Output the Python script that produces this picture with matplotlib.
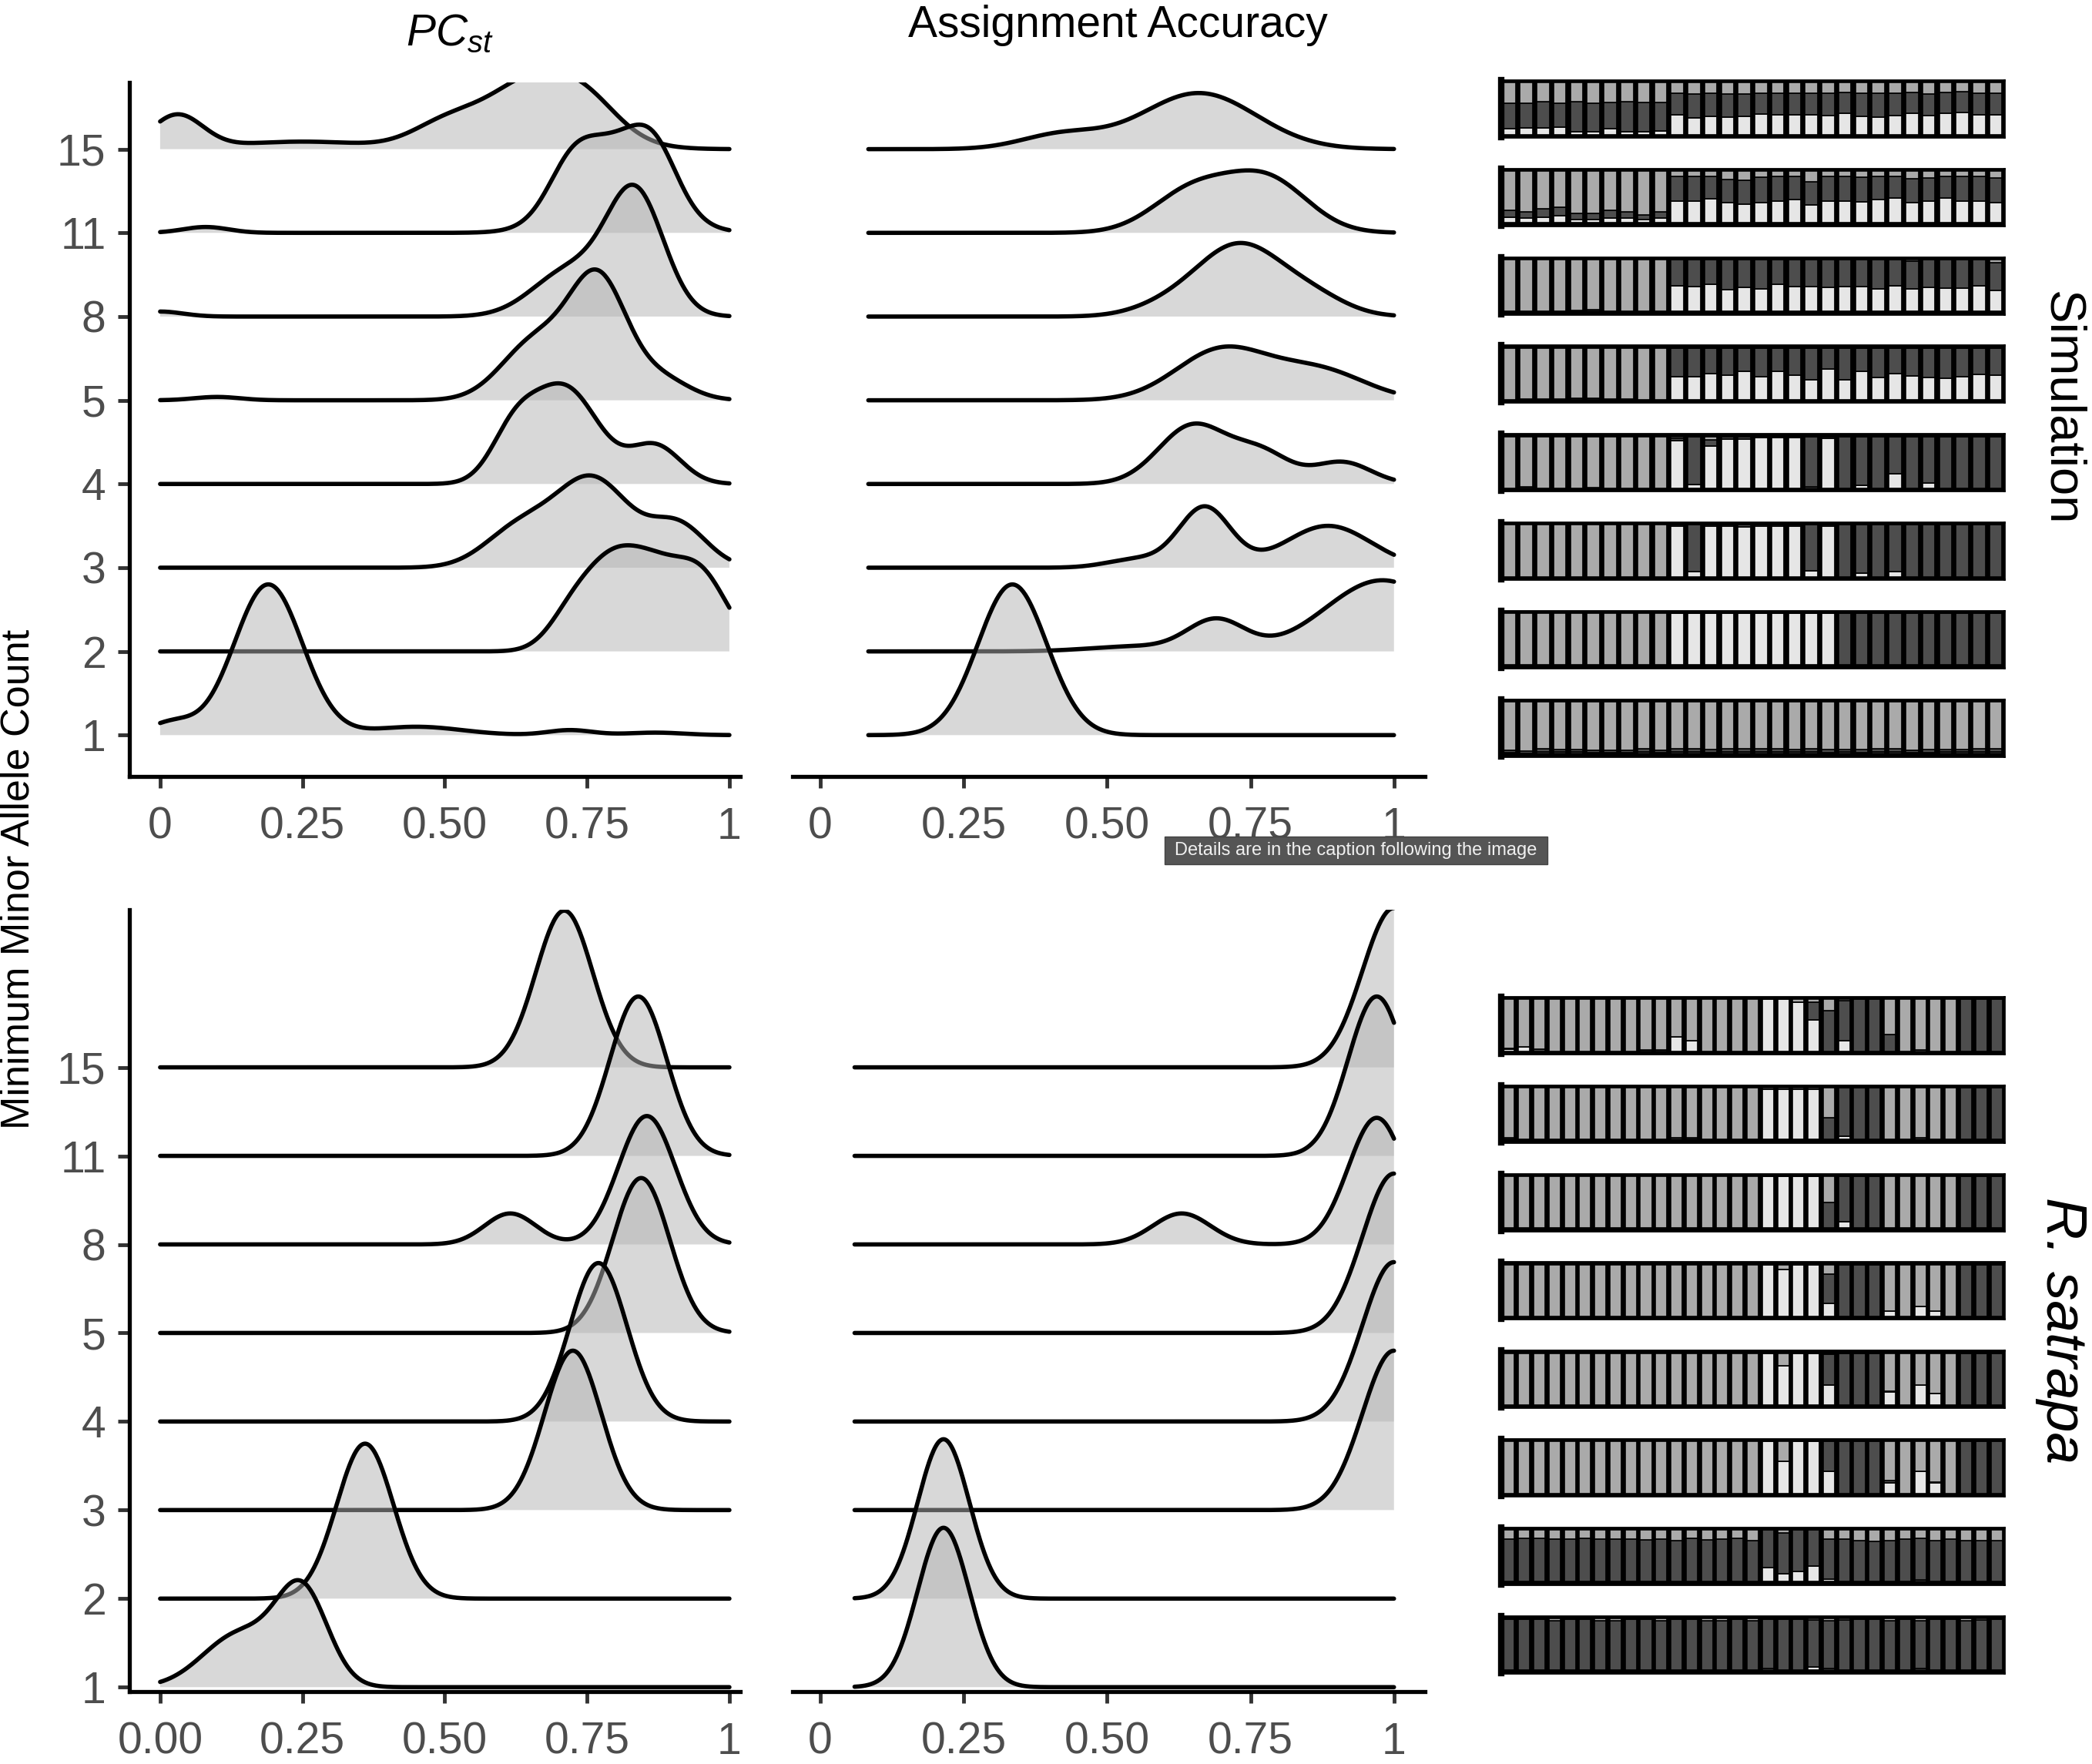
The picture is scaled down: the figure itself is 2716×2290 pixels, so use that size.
import numpy as np
import matplotlib
matplotlib.use("Agg")
import matplotlib.pyplot as plt
from matplotlib.patches import Rectangle

plt.rcParams['font.family'] = ['Liberation Sans', 'DejaVu Sans']
plt.rcParams['mathtext.fontset'] = 'custom'
plt.rcParams['mathtext.it'] = 'Liberation Sans:italic'
plt.rcParams['mathtext.rm'] = 'Liberation Sans'

W, H = 2716, 2290

mac_labels = ["1", "2", "3", "4", "5", "8", "11", "15"]

# ridge shapes: (centre, spread, height in row units)
# one entry per MAC, order 1, 2, 3, 4, 5, 8, 11, 15
sim_pcst = [
    [(0.02, 0.04, 0.15), (0.19, 0.06, 1.8), (0.45, 0.08, 0.1), (0.72, 0.04, 0.06), (0.87, 0.05, 0.03)],
    [(0.72, 0.04, 0.3), (0.8, 0.055, 1.1), (0.87, 0.04, 0.4), (0.945, 0.05, 0.95)],
    [(0.63, 0.06, 0.45), (0.76, 0.065, 1.05), (0.91, 0.05, 0.5)],
    [(0.62, 0.04, 0.5), (0.71, 0.06, 1.15), (0.87, 0.045, 0.45)],
    [(0.1, 0.04, 0.04), (0.66, 0.06, 0.7), (0.77, 0.05, 1.4), (0.88, 0.05, 0.25)],
    [(0.0, 0.04, 0.06), (0.72, 0.065, 0.55), (0.835, 0.05, 1.45)],
    [(0.08, 0.04, 0.07), (0.72, 0.04, 0.4), (0.8, 0.075, 1.05), (0.87, 0.04, 0.5)],
    [(0.03, 0.045, 0.4), (0.25, 0.12, 0.09), (0.5, 0.06, 0.25), (0.67, 0.09, 0.9), (0.76, 0.05, 0.15)],
]
sim_acc = [
    [(0.335, 0.06, 1.8)],
    [(0.55, 0.08, 0.06), (0.69, 0.05, 0.37), (0.98, 0.1, 0.85)],
    [(0.55, 0.05, 0.1), (0.67, 0.045, 0.72), (0.885, 0.075, 0.5)],
    [(0.65, 0.06, 0.7), (0.77, 0.05, 0.35), (0.91, 0.05, 0.26)],
    [(0.7, 0.08, 0.6), (0.87, 0.08, 0.35)],
    [(0.6, 0.06, 0.1), (0.73, 0.075, 0.85), (0.86, 0.06, 0.2)],
    [(0.65, 0.07, 0.5), (0.78, 0.07, 0.62)],
    [(0.42, 0.07, 0.17), (0.66, 0.1, 0.67)],
]
sat_pcst = [
    [(0.14, 0.065, 0.6), (0.25, 0.045, 1.05)],
    [(0.36, 0.05, 1.75)],
    [(0.725, 0.05, 1.8)],
    [(0.77, 0.05, 1.79)],
    [(0.845, 0.05, 1.75)],
    [(0.615, 0.045, 0.35), (0.855, 0.05, 1.45)],
    [(0.84, 0.05, 1.8)],
    [(0.71, 0.05, 1.77)],
]
sat_acc = [
    [(0.215, 0.045, 1.8)],
    [(0.215, 0.045, 1.8)],
    [(1.0, 0.055, 1.8)],
    [(1.0, 0.055, 1.8)],
    [(1.0, 0.055, 1.8)],
    [(0.63, 0.05, 0.35), (0.97, 0.05, 1.43)],
    [(0.97, 0.05, 1.8)],
    [(1.0, 0.055, 1.8)],
]
sim_acc_start = 0.084
sat_acc_start = 0.06

# structure plots: share of light and dark cluster per individual, rest is mid grey
# rows from top to bottom
sim_light = [
    [0.11, 0.13, 0.13, 0.14, 0.05, 0.05, 0.12, 0.05, 0.05, 0.07,
     0.38, 0.32, 0.35, 0.33, 0.35, 0.4, 0.38, 0.38, 0.38, 0.36, 0.41, 0.35, 0.33, 0.36, 0.41, 0.36, 0.41, 0.42, 0.38, 0.38],
    [0.11, 0.09, 0.11, 0.14, 0.07, 0.07, 0.09, 0.09, 0.07, 0.09,
     0.43, 0.42, 0.46, 0.4, 0.36, 0.4, 0.42, 0.45, 0.35, 0.43, 0.43, 0.41, 0.45, 0.48, 0.4, 0.43, 0.48, 0.43, 0.42, 0.39],
    [0] * 10 + [0.5, 0.48, 0.53, 0.42, 0.46, 0.43, 0.52, 0.48, 0.48, 0.46, 0.48, 0.48, 0.43, 0.5, 0.43, 0.46, 0.45, 0.45, 0.5, 0.41],
    [0] * 10 + [0.44, 0.44, 0.5, 0.48, 0.55, 0.44, 0.55, 0.48, 0.39, 0.59, 0.39, 0.55, 0.43, 0.51, 0.46, 0.43, 0.42, 0.45, 0.49, 0.48],
    [0] * 10 + [0.92, 0.07, 0.82, 0.95, 0.95, 0.98, 0.98, 0.98, 0.03, 0.97] + [0, 0.05, 0, 0.28, 0, 0.1, 0, 0, 0, 0],
    [0] * 10 + [0.97, 0.1, 0.98, 0.98, 0.96, 0.98, 0.98, 0.98, 0.12, 0.97] + [0, 0.07, 0, 0.1, 0, 0, 0, 0, 0, 0],
    [0] * 10 + [1] * 10 + [0] * 10,
    [0.02, 0.01, 0.04, 0.03, 0.03, 0.02, 0.02, 0.02, 0.03, 0.02, 0.03, 0.04, 0.02, 0.04, 0.04,
     0.04, 0.03, 0.03, 0.04, 0.02, 0.03, 0.02, 0.04, 0.04, 0.02, 0.02, 0.03, 0.03, 0.04, 0.03],
]
sim_dark = [
    [0.5, 0.48, 0.5, 0.47, 0.58, 0.56, 0.5, 0.58, 0.57, 0.55,
     0.42, 0.46, 0.44, 0.45, 0.43, 0.4, 0.42, 0.41, 0.42, 0.43, 0.4, 0.44, 0.46, 0.43, 0.4, 0.42, 0.4, 0.4, 0.42, 0.42],
    [0.14, 0.13, 0.16, 0.17, 0.11, 0.11, 0.15, 0.13, 0.09, 0.13,
     0.47, 0.48, 0.44, 0.44, 0.46, 0.49, 0.48, 0.45, 0.45, 0.47, 0.47, 0.48, 0.45, 0.42, 0.45, 0.44, 0.42, 0.47, 0.48, 0.48],
    [0.01, 0, 0, 0, 0.02, 0.03, 0, 0, 0, 0,
     0.5, 0.52, 0.47, 0.58, 0.54, 0.57, 0.48, 0.52, 0.52, 0.54, 0.52, 0.52, 0.57, 0.5, 0.54, 0.54, 0.55, 0.55, 0.5, 0.53],
    [0, 0.02, 0.01, 0.02, 0.03, 0.03, 0.01, 0.02, 0, 0,
     0.56, 0.56, 0.5, 0.52, 0.45, 0.56, 0.45, 0.52, 0.61, 0.41, 0.61, 0.45, 0.57, 0.49, 0.54, 0.57, 0.58, 0.55, 0.51, 0.52],
    [0, 0.02, 0, 0, 0, 0.01, 0, 0, 0, 0] + [0.05, 0.93, 0.12, 0.05, 0.05, 0.02, 0.02, 0.02, 0.97, 0.03]
    + [1, 0.95, 1, 0.72, 1, 0.9, 1, 1, 1, 1],
    [0] * 10 + [0.03, 0.9, 0.02, 0.02, 0.04, 0.02, 0.02, 0.02, 0.88, 0.03] + [1, 0.93, 1, 0.9, 1, 1, 1, 1, 1, 1],
    [0] * 20 + [1] * 10,
    [0.05, 0.04, 0.05, 0.05, 0.05, 0.04, 0.05, 0.05, 0.06, 0.05, 0.06, 0.05, 0.06, 0.05, 0.05,
     0.05, 0.06, 0.05, 0.05, 0.06, 0.05, 0.06, 0.05, 0.05, 0.05, 0.06, 0.05, 0.05, 0.05, 0.06],
]
sat_light = [
    [0.04, 0.08, 0, 0, 0, 0, 0, 0, 0, 0, 0, 0.28, 0.2, 0, 0, 0, 0, 1, 1, 0.95, 0.6, 0, 0.2, 0, 0, 0, 0, 0.03, 0, 0, 0, 0, 0],
    [0] * 11 + [0.04, 0, 0, 0, 0, 0, 0.98, 0.98, 0.98, 0.98, 0, 0.07, 0, 0, 0, 0, 0.03, 0, 0, 0, 0, 0],
    [0] * 17 + [1, 1, 1, 1, 0, 0.12] + [0] * 10,
    [0] * 17 + [1, 0.9, 1, 1, 0.25, 0, 0, 0, 0.1, 0, 0.2, 0.1, 0, 0, 0, 0],
    [0] * 17 + [1, 0.75, 1, 1, 0.38, 0, 0, 0, 0.25, 0, 0.38, 0.22, 0, 0, 0, 0],
    [0] * 17 + [1, 0.62, 1, 1, 0.42, 0, 0, 0, 0.2, 0, 0.42, 0.2, 0, 0, 0, 0],
    [0] * 17 + [0.28, 0.15, 0.2, 0.3, 0.05, 0, 0, 0, 0, 0, 0.04, 0, 0, 0, 0, 0],
    [0] * 17 + [0.04, 0, 0, 0.07, 0.04, 0, 0, 0, 0, 0, 0.04, 0, 0, 0, 0, 0],
]
sat_dark = [
    [0.02, 0, 0.04, 0, 0, 0, 0, 0, 0, 0.02, 0.02, 0, 0, 0, 0, 0, 0, 0, 0, 0, 0.35, 0.78, 0.78, 1, 1, 0.32, 0, 0, 0, 0, 1, 1, 1],
    [0.03] + [0] * 11 + [0.03] + [0] * 8 + [0.43, 0.93, 1, 1] + [0] * 5 + [1, 1, 1],
    [0] * 21 + [0.5, 0.88, 1, 1] + [0] * 5 + [1, 1, 1],
    [0] * 17 + [0, 0, 0, 0, 0.57, 1, 1, 1, 0, 0, 0, 0, 0, 1, 1, 1],
    [0] * 17 + [0, 0, 0, 0, 0.6, 1, 1, 1, 0.02, 0, 0, 0, 0, 1, 1, 1],
    [0] * 17 + [0, 0, 0, 0, 0.58, 1, 1, 1, 0.04, 0, 0, 0.02, 0, 1, 1, 1],
    [0.83, 0.84, 0.84, 0.82, 0.83, 0.84, 0.83, 0.82, 0.82, 0.81, 0.83, 0.8, 0.84, 0.81, 0.82, 0.84, 0.8,
     0.72, 0.8, 0.8, 0.7, 0.78, 0.82, 0.8, 0.78, 0.8, 0.82, 0.8, 0.8, 0.83, 0.8, 0.79, 0.8],
    [0.98, 0.98, 0.98, 0.96, 0.98, 0.98, 0.96, 0.96, 0.98, 0.98, 0.96, 0.98, 0.98, 0.96, 0.96, 0.98, 0.96,
     0.94, 0.98, 0.98, 0.9, 0.92, 0.97, 0.98, 0.98, 0.96, 0.98, 0.92, 0.98, 0.98, 0.96, 0.97, 0.98],
]

LIGHT, MID, DARK = '#e6e6e6', '#aaaaaa', '#4d4d4d'
TXT = '#4d4d4d'

fig = plt.figure(figsize=(W / 100, H / 100), dpi=100)


def px_axes(x0, y0, x1, y1):
    return fig.add_axes([x0 / W, 1 - y1 / H, (x1 - x0) / W, (y1 - y0) / H])


def ridges(ax, shapes, x0):
    xs = np.linspace(x0, 1, 500)
    for k in range(7, -1, -1):
        base = k + 1
        dens = np.zeros_like(xs)
        for m, s, a in shapes[k]:
            dens += a * np.exp(-(xs - m) ** 2 / (2 * s ** 2))
        z = 2 * (8 - k)
        ax.fill_between(xs, base, base + dens, facecolor='#b3b3b3', alpha=0.5, lw=0, zorder=z)
        ax.plot(xs, base + dens, color='black', lw=4.0, zorder=z + 1, solid_capstyle='round')


def style(ax, xlim, ylim, xlabels, show_y):
    ax.set_xlim(*xlim)
    ax.set_ylim(*ylim)
    ax.set_xticks([0, 0.25, 0.5, 0.75, 1])
    ax.set_xticklabels(xlabels)
    for s in ['top', 'right']:
        ax.spines[s].set_visible(False)
    ax.spines['bottom'].set_linewidth(3.8)
    ax.spines['left'].set_linewidth(3.8)
    ax.tick_params(axis='x', length=11, width=3.5, color='#333333', labelsize=41, labelcolor=TXT, pad=17)
    if show_y:
        ax.set_yticks(range(1, 9))
        ax.set_yticklabels(mac_labels)
        ax.tick_params(axis='y', length=11, width=3.5, color='#333333', labelsize=41, labelcolor=TXT, pad=11)
    else:
        ax.spines['left'].set_visible(False)
        ax.set_yticks([])


ax1 = px_axes(168, 107, 961, 1008)
ridges(ax1, sim_pcst, 0.0)
style(ax1, (-0.054, 1.019), (0.506, 8.797), ["0", "0.25", "0.50", "0.75", "1"], True)

ax2 = px_axes(1029, 107, 1850, 1008)
ridges(ax2, sim_acc, sim_acc_start)
style(ax2, (-0.048, 1.054), (0.506, 8.797), ["0", "0.25", "0.50", "0.75", "1"], False)

ax3 = px_axes(168, 1181, 961, 2196)
ridges(ax3, sat_pcst, 0.0)
style(ax3, (-0.054, 1.019), (0.95, 9.78), ["0.00", "0.25", "0.50", "0.75", "1"], True)

ax4 = px_axes(1029, 1181, 1850, 2196)
ridges(ax4, sat_acc, sat_acc_start)
style(ax4, (-0.048, 1.054), (0.95, 9.78), ["0", "0.25", "0.50", "0.75", "1"], False)


def structure(top, light, dark):
    n = len(light)
    ax = px_axes(1949, top, 2602, top + 74)
    ax.set_facecolor('black')
    xs = np.arange(1, n + 1)
    lt = np.array(light, dtype=float)
    dk = np.array(dark, dtype=float)
    md = np.clip(1 - lt - dk, 0, 1)
    kw = dict(width=0.76, edgecolor='black', linewidth=1.2)
    ax.bar(xs, lt, color=LIGHT, **kw)
    ax.bar(xs, dk, bottom=lt, color=DARK, **kw)
    ax.bar(xs, md, bottom=lt + dk, color=MID, **kw)
    ax.set_xlim(0.5, n + 0.5)
    ax.set_ylim(-0.05, 1.05)
    ax.set_xticks([])
    ax.set_yticks([])
    for s in ax.spines.values():
        s.set_linewidth(2)
    ax.spines['left'].set_linewidth(6)


for i in range(8):
    structure(104 + 114.8 * i, sim_light[i], sim_dark[i])
    structure(1294 + 114.8 * i, sat_light[i], sat_dark[i])

fig.text(584 / W, 1 - 59 / H, r'$PC_{st}$', ha='center', va='baseline', fontsize=41)
fig.text(1451 / W, 1 - 48 / H, 'Assignment Accuracy', ha='center', va='baseline', fontsize=41)
fig.text(24 / W, 1 - 1141 / H, 'Minimum Minor Allele Count', rotation=90, ha='center', va='center', fontsize=37.5)
fig.text(2676 / W, 1 - 530 / H, 'Simulation', rotation=-90, ha='center', va='center', fontsize=47)
fig.text(2676 / W, 1 - 1727 / H, 'R. satrapa', rotation=-90, ha='center', va='center', fontsize=54, style='italic')

# tooltip overlay present in the source image
fig.patches.append(Rectangle((1512 / W, 1 - 1122 / H), 497 / W, 36 / H, transform=fig.transFigure,
                             facecolor='#555555', edgecolor='#444444', lw=1, zorder=50))
fig.text(1760 / W, 1 - 1104 / H, 'Details are in the caption following the image', color='#f0f0f0',
         ha='center', va='center', fontsize=17, zorder=51)

fig.savefig('out.png', dpi=100)
